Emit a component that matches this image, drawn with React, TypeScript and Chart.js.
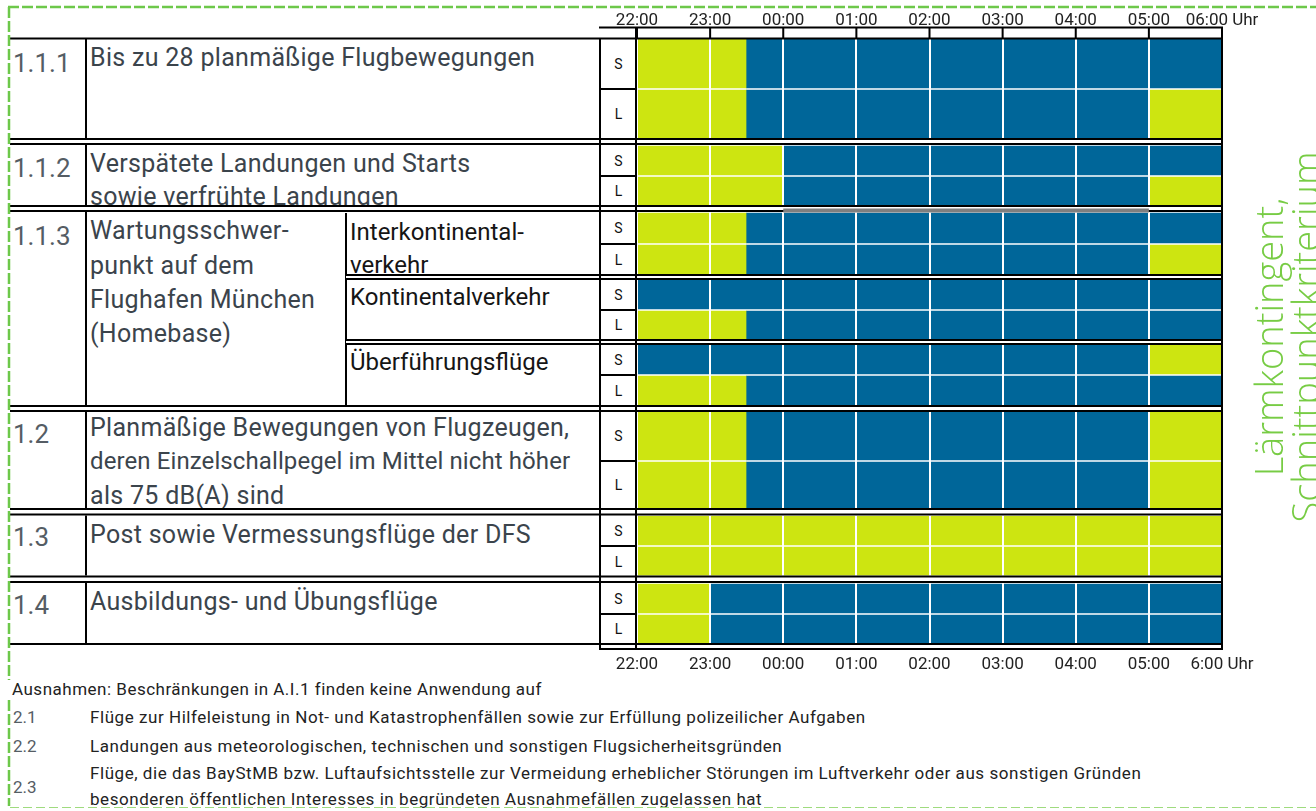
import React, { useEffect, useRef } from "react";
import { Chart, registerables } from "chart.js";

Chart.register(...registerables);

// ---------- data ----------
const hourLabelsTop = ["22:00", "23:00", "00:00", "01:00", "02:00", "03:00", "04:00", "05:00", "06:00 Uhr"];
const hourLabelsBottom = ["22:00", "23:00", "00:00", "01:00", "02:00", "03:00", "04:00", "05:00", "6:00 Uhr"];

// S = Starts, L = Landungen; one entry per bar row (top to bottom)
const rowLabels = ["S", "L", "S", "L", "S", "L", "S", "L", "S", "L", "S", "L", "S", "L", "S", "L"];
// hours after 22:00 until which the green period runs
const earlyGreenEnd = [1.5, 1.5, 2, 2, 1.5, 1.5, 0, 1.5, 0, 1.5, 1.5, 1.5, 8, 8, 1, 1];
// hours after 22:00 from which green resumes (8 = none)
const lateGreenStart = [8, 7, 8, 7, 8, 7, 8, 8, 7, 8, 7, 7, 8, 8, 8, 8];
const spanHours = 8;

// ---------- layout (page units) ----------
const rowTops = [39, 90, 146, 177, 213, 245, 280, 311, 345, 376, 412, 462, 516, 547, 584, 615];
const rowBottoms = [88, 138, 175, 205, 243, 274, 309, 339, 374, 405, 460, 508, 545, 576, 613, 643];
const separators = [
  { a: 138, b: 143, x0: 10 },
  { a: 205, b: 210, x0: 10, gray: true },
  { a: 274, b: 278, x0: 346 },
  { a: 339, b: 343, x0: 346 },
  { a: 405, b: 410, x0: 10 },
  { a: 508, b: 513.5, x0: 10 },
  { a: 575.5, b: 581, x0: 10 },
];
const COL_LEFT = 10;
const COL_NUM = 86;
const COL_SUB = 346;
const COL_SL = 600;
const BAR_LEFT = 637;
const TABLE_TOP = 38;
const TABLE_BOTTOM = 650;

const GREEN = "#cde511";
const BLUE = "#006699";
const TEXT = "#3b444c";
const BORDER_GREEN = "#6dc84a";

const tablePlugin = {
  id: "tableLines",
  afterDraw(chart: any) {
    const ctx = chart.ctx as CanvasRenderingContext2D;
    const xs = chart.scales.x;
    const ys = chart.scales.y;
    const px = (h: number) => xs.getPixelForValue(h);
    const py = (v: number) => ys.getPixelForValue(v);
    const L = px(0);
    const R = px(spanHours);
    ctx.save();
    const rect = (x0: number, y0: number, w: number, h: number, c = "#000") => {
      ctx.fillStyle = c;
      ctx.fillRect(x0, y0, w, h);
    };
    // left table verticals (interrupted by separators)
    rect(COL_NUM - 1, py(TABLE_TOP), 2, py(rowBottoms[15]) - py(TABLE_TOP));
    rect(COL_SUB - 1, py(rowTops[4]), 2, py(rowBottoms[9]) - py(rowTops[4]));
    // separators
    separators.forEach((s) => {
      rect(s.x0, py(s.a), R + 1 - s.x0, py(s.b) - py(s.a) + 2, "#fff");
      rect(s.x0, py(s.a), R + 1 - s.x0, 2);
      rect(s.x0, py(s.b), R + 1 - s.x0, 2);
      if (s.gray) rect(px(2), py(s.b) - 1.5, px(7) - px(2), 4, "#7f7f7f");
    });
    // top table line
    rect(COL_LEFT, py(TABLE_TOP) - 0.5, R + 1 - COL_LEFT, 2);
    // header row
    rect(COL_SL - 1, 26.5, R + 2 - COL_SL, 2);
    for (let h = 0; h <= spanHours; h++) rect(px(h) - 1, 27, 2, py(TABLE_TOP) - 27);
    // bottom lines
    rect(COL_LEFT, py(rowBottoms[15]), R + 1 - COL_LEFT, 2);
    rect(COL_SL - 1, py(rowBottoms[15]) + 5, R + 2 - COL_SL, 2);
    // S/L column borders
    rect(COL_SL - 1, py(TABLE_TOP), 2, py(TABLE_BOTTOM) - py(TABLE_TOP));
    rect(L - 2, 27, 2, py(TABLE_BOTTOM) - 27);
    rect(R - 1, 27, 2, py(TABLE_BOTTOM) - 27);
    for (let i = 0; i < rowTops.length; i += 2) {
      const mid = (py(rowBottoms[i]) + py(rowTops[i + 1])) / 2;
      rect(COL_SL, mid - 1, L - COL_SL, 2);
    }
    // dashed green frame
    ctx.strokeStyle = BORDER_GREEN;
    ctx.lineWidth = 2.5;
    ctx.setLineDash([11, 3]);
    ctx.beginPath();
    ctx.moveTo(8, 7);
    ctx.lineTo(1316, 7);
    ctx.moveTo(9, 7);
    ctx.lineTo(9, 680);
    ctx.moveTo(9, 700);
    ctx.lineTo(9, 806);
    ctx.stroke();
    ctx.lineWidth = 1.2;
    ctx.strokeStyle = "#9fdb7e";
    ctx.setLineDash([9, 4]);
    ctx.beginPath();
    ctx.moveTo(10, 807.5);
    ctx.lineTo(1316, 807.5);
    ctx.stroke();
    ctx.restore();
  },
};

type TProps = {
  x: number;
  y: number;
  size: number;
  color?: string;
  weight?: number;
  spacing?: number;
  width?: number;
  children: React.ReactNode;
};
const T = ({ x, y, size, color = TEXT, weight = 400, spacing = 0, width, children }: TProps) => (
  <div
    style={{
      position: "absolute",
      left: x,
      top: y - 0.486 * size,
      width,
      textAlign: width ? "center" : "left",
      fontSize: size,
      lineHeight: size + "px",
      letterSpacing: spacing,
      whiteSpace: "nowrap",
      color,
      fontWeight: weight,
      fontFamily: "Roboto, sans-serif",
    }}
  >
    {children}
  </div>
);

const H = 25;
const HS = 0.3;
const F = 17;
const FS = 0.55;
const NUM = "#555d64";

export default function App() {
  const ref = useRef<HTMLCanvasElement>(null);
  const centers = rowTops.map((t, i) => (t + rowBottoms[i]) / 2);
  useEffect(() => {
    const canvas = ref.current!;
    const datasets = rowLabels.map((lab, i) => ({
      label: lab + i,
      data: [
        { x: [0, earlyGreenEnd[i]], y: centers[i] },
        { x: [earlyGreenEnd[i], lateGreenStart[i]], y: centers[i] },
        { x: [lateGreenStart[i], spanHours], y: centers[i] },
      ],
      backgroundColor: [GREEN, BLUE, GREEN],
      barThickness: rowBottoms[i] - rowTops[i],
      grouped: false,
      borderWidth: 0,
    }));
    const tickFont = { family: "Roboto, sans-serif", size: 17 };
    const chart = new Chart(canvas, {
      type: "bar",
      data: { datasets } as any,
      options: {
        indexAxis: "y",
        animation: false,
        responsive: false,
        devicePixelRatio: 1,
        events: [],
        layout: { padding: { left: BAR_LEFT, right: 94, top: 0, bottom: 131 } },
        plugins: { legend: { display: false }, tooltip: { enabled: false } },
        scales: {
          x: {
            type: "linear",
            position: "bottom",
            min: 0,
            max: spanHours,
            afterFit: (s: any) => {
              s.height = 30;
            },
            ticks: {
              stepSize: 1,
              padding: 5,
              autoSkip: false,
              maxRotation: 0,
              color: "#222",
              font: tickFont,
              callback: (v: any) => hourLabelsBottom[v],
            },
            grid: { color: "#fff", lineWidth: 2, drawTicks: false, z: 1 },
            border: { display: false },
          },
          x2: {
            type: "linear",
            position: "top",
            min: 0,
            max: spanHours,
            afterFit: (s: any) => {
              s.height = TABLE_TOP;
            },
            ticks: {
              stepSize: 1,
              padding: 7,
              autoSkip: false,
              maxRotation: 0,
              color: "#222",
              font: tickFont,
              callback: (v: any) => hourLabelsTop[v],
            },
            grid: { display: false, drawTicks: false },
            border: { display: false },
          },
          y: {
            type: "linear",
            display: false,
            reverse: true,
            offset: false,
            bounds: "data",
            grace: 0,
            min: TABLE_TOP,
            max: TABLE_BOTTOM,
            grid: { display: false, offset: false },
          },
        },
      } as any,
      plugins: [tablePlugin],
    });
    return () => chart.destroy();
  }, []);

  return (
    <div
      style={{
        position: "absolute",
        left: 0,
        top: 0,
        width: 1316,
        height: 811,
        background: "#fff",
        overflow: "hidden",
      }}
    >
      <T x={13} y={63} size={26} color={NUM}>1.1.1</T>
      <T x={90} y={57} size={H} spacing={HS}>Bis zu 28 planmäßige Flugbewegungen</T>
      <T x={13} y={168} size={26} color={NUM}>1.1.2</T>
      <T x={90} y={163} size={H} spacing={HS}>Verspätete Landungen und Starts</T>
      <T x={90} y={196} size={H} spacing={HS}>sowie verfrühte Landungen</T>
      <T x={13} y={236} size={26} color={NUM}>1.1.3</T>
      <T x={90} y={230} size={H} spacing={HS}>Wartungsschwer-</T>
      <T x={90} y={265} size={H} spacing={HS}>punkt auf dem</T>
      <T x={90} y={299} size={H} spacing={HS}>Flughafen München</T>
      <T x={90} y={333} size={H} spacing={HS}>(Homebase)</T>
      <T x={350} y={232} size={24} color="#151515">Interkontinental-</T>
      <T x={350} y={265} size={24} color="#151515">verkehr</T>
      <T x={350} y={297} size={24} color="#151515">Kontinentalverkehr</T>
      <T x={350} y={362} size={24} color="#151515">Überführungsflüge</T>
      <T x={13} y={434} size={26} color={NUM}>1.2</T>
      <T x={90} y={427} size={H} spacing={HS}>Planmäßige Bewegungen von Flugzeugen,</T>
      <T x={90} y={461} size={24} spacing={0.1}>deren Einzelschallpegel im Mittel nicht höher</T>
      <T x={90} y={495} size={H} spacing={HS}>als 75 dB(A) sind</T>
      <T x={13} y={537} size={26} color={NUM}>1.3</T>
      <T x={90} y={534} size={H} spacing={HS}>Post sowie Vermessungsflüge der DFS</T>
      <T x={13} y={605} size={26} color={NUM}>1.4</T>
      <T x={90} y={601} size={H} spacing={HS}>Ausbildungs- und Übungsflüge</T>

      {rowLabels.map((lab, i) => (
        <T key={i} x={COL_SL} width={BAR_LEFT - COL_SL} y={centers[i]} size={14} color="#111">
          {lab}
        </T>
      ))}

      <T x={12} y={689} size={F} spacing={0.5} color="#222">Ausnahmen: Beschränkungen in A.I.1 finden keine Anwendung auf</T>
      <T x={13} y={717} size={F} color={NUM}>2.1</T>
      <T x={90} y={717} size={F} spacing={FS} color="#222">Flüge zur Hilfeleistung in Not- und Katastrophenfällen sowie zur Erfüllung polizeilicher Aufgaben</T>
      <T x={13} y={746} size={F} color={NUM}>2.2</T>
      <T x={90} y={746} size={F} spacing={FS} color="#222">Landungen aus meteorologischen, technischen und sonstigen Flugsicherheitsgründen</T>
      <T x={13} y={787} size={F} color={NUM}>2.3</T>
      <T x={90} y={773} size={F} spacing={FS} color="#222">Flüge, die das BayStMB bzw. Luftaufsichtsstelle zur Vermeidung erheblicher Störungen im Luftverkehr oder aus sonstigen Gründen</T>
      <T x={90} y={799} size={F} spacing={FS} color="#222">besonderen öffentlichen Interesses in begründeten Ausnahmefällen zugelassen hat</T>

      <canvas
        ref={ref}
        width={1316}
        height={811}
        style={{ position: "absolute", left: 0, top: 0, width: 1316, height: 811, zIndex: 2 }}
      />

      <div
        style={{
          position: "absolute",
          left: 1286 - 260,
          top: 337 - 36,
          width: 520,
          height: 72,
          transform: "rotate(-90deg)",
          transformOrigin: "50% 50%",
          textAlign: "center",
          fontFamily: '"Open Sans", sans-serif',
          fontWeight: 300,
          fontSize: 38,
          lineHeight: "37px",
          color: "#77cc44",
          whiteSpace: "nowrap",
          zIndex: 3,
        }}
      >
        Lärmkontingent,
        <br />
        Schnittpunktkriterium
      </div>
    </div>
  );
}
